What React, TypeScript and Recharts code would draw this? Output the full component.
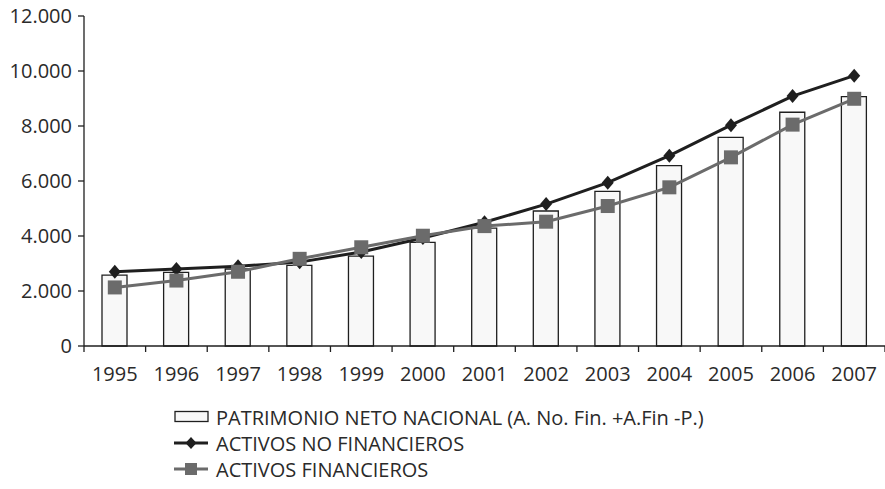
import { ComposedChart, Bar, Line, XAxis, YAxis } from 'recharts';

const YEARS = ['1995', '1996', '1997', '1998', '1999', '2000', '2001', '2002', '2003', '2004', '2005', '2006', '2007'];
const PATRIMONIO = [2580, 2680, 2800, 2930, 3270, 3770, 4290, 4910, 5620, 6560, 7590, 8500, 9070];
const NO_FINANCIEROS = [2700, 2800, 2900, 3050, 3420, 3930, 4500, 5160, 5940, 6920, 8030, 9090, 9830];
const FINANCIEROS = [2130, 2380, 2700, 3170, 3590, 4010, 4360, 4520, 5090, 5770, 6860, 8050, 8990];
const Y_TICKS = [0, 2000, 4000, 6000, 8000, 10000, 12000];

const LEGEND = [
  { kind: 'bar', label: 'PATRIMONIO NETO NACIONAL (A. No. Fin. +A.Fin -P.)' },
  { kind: 'diamond', label: 'ACTIVOS NO FINANCIEROS' },
  { kind: 'square', label: 'ACTIVOS FINANCIEROS' },
];

const data = YEARS.map((year, i) => ({
  year,
  patrimonio: PATRIMONIO[i],
  noFin: NO_FINANCIEROS[i],
  fin: FINANCIEROS[i],
}));

const FONT = '"Open Sans", sans-serif';
const DARK = '#1f1f1f';
const GREY = '#6b6b6b';
const TEXT = '#2a2a2a';

const fmt = (v: number) => v.toLocaleString('de-DE');

function Diamond(props: any) {
  const { cx, cy } = props;
  if (cx == null || cy == null) return null;
  return <polygon points={`${cx},${cy - 7} ${cx + 6},${cy} ${cx},${cy + 7} ${cx - 6},${cy}`} fill={DARK} />;
}

function Square(props: any) {
  const { cx, cy } = props;
  if (cx == null || cy == null) return null;
  return <rect x={cx - 7} y={cy - 7} width={14} height={14} fill={GREY} />;
}

// year label centred in its band, tick marks on the band edges
function YearTick(props: any) {
  const { x, y, payload, index, visibleTicksCount } = props;
  const half = payload.offset || 0;
  const last = index === visibleTicksCount - 1;
  return (
    <g>
      <line x1={x - half} y1={y} x2={x - half} y2={y + 6} stroke={DARK} strokeWidth={1.3} />
      {last && <line x1={x + half} y1={y} x2={x + half} y2={y + 6} stroke={DARK} strokeWidth={1.3} />}
      <text x={x} y={y + 21} dy="0.71em" textAnchor="middle" fill={TEXT} fontSize={20} fontFamily={FONT}>
        {payload.value}
      </text>
    </g>
  );
}

function LegendIcon({ kind }: { kind: string }) {
  if (kind === 'bar') {
    return (
      <svg width={35} height={14}>
        <rect x={1} y={1.5} width={33} height={10} fill="#f8f8f8" stroke={DARK} strokeWidth={1.3} />
      </svg>
    );
  }
  const color = kind === 'diamond' ? DARK : GREY;
  return (
    <svg width={35} height={16}>
      <line x1={0} y1={8} x2={34} y2={8} stroke={color} strokeWidth={3} />
      {kind === 'diamond' ? (
        <polygon points="17,2 22.5,8 17,14 11.5,8" fill={DARK} />
      ) : (
        <rect x={11} y={2} width={12} height={12} fill={GREY} />
      )}
    </svg>
  );
}

export default function App() {
  return (
    <div style={{ position: 'absolute', left: 0, top: 0, width: 885, height: 489, background: '#fff', fontFamily: FONT }}>
      <ComposedChart
        width={885}
        height={489}
        data={data}
        margin={{ top: 16, right: 0, bottom: 113, left: 0 }}
      >
        <XAxis
          dataKey="year"
          height={30}
          axisLine={{ stroke: DARK, strokeWidth: 1.3 }}
          tickLine={false}
          tickSize={0}
          tickMargin={0}
          interval={0}
          tick={<YearTick />}
        />
        <YAxis
          width={84}
          domain={[0, 12000]}
          ticks={Y_TICKS}
          tickFormatter={fmt}
          tickSize={6}
          tickMargin={6}
          axisLine={{ stroke: DARK, strokeWidth: 1.3 }}
          tickLine={{ stroke: DARK, strokeWidth: 1.3 }}
          tick={{ fill: TEXT, fontSize: 20, fontFamily: FONT }}
        />
        <Bar dataKey="patrimonio" fill="#f8f8f8" stroke={DARK} strokeWidth={1.3} barSize={25} isAnimationActive={false} />
        <Line dataKey="noFin" stroke={DARK} strokeWidth={3} dot={<Diamond />} activeDot={false} isAnimationActive={false} />
        <Line dataKey="fin" stroke={GREY} strokeWidth={3} dot={<Square />} activeDot={false} isAnimationActive={false} />
      </ComposedChart>
      <div style={{ position: 'absolute', left: 174, top: 404, fontSize: 20, color: TEXT }}>
        {LEGEND.map((item) => (
          <div key={item.label} style={{ display: 'flex', alignItems: 'center', height: 26 }}>
            <LegendIcon kind={item.kind} />
            <span style={{ marginLeft: 7 }}>{item.label}</span>
          </div>
        ))}
      </div>
    </div>
  );
}
